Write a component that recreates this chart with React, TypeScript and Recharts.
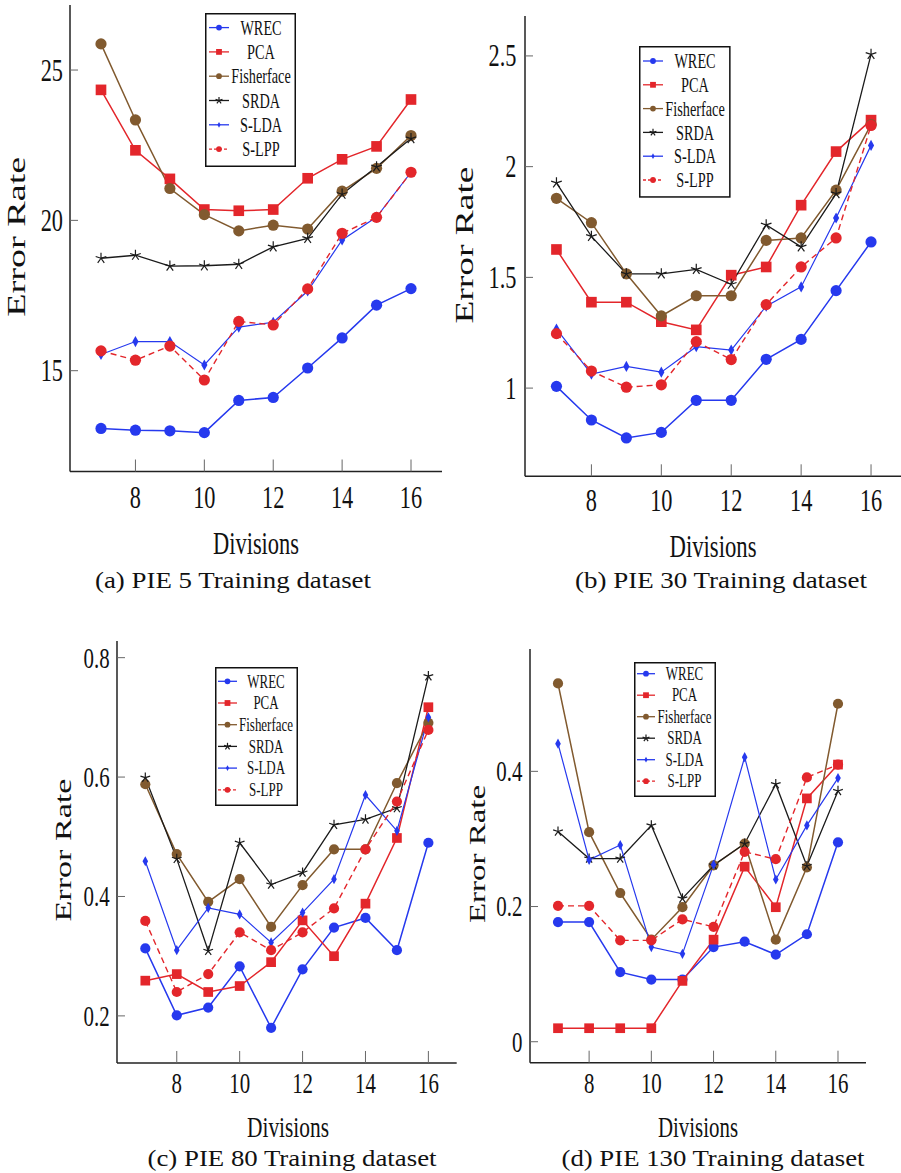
import React from 'react';
import { LineChart, Line, XAxis, YAxis, Legend } from 'recharts';

const divisions = [7, 8, 9, 10, 11, 12, 13, 14, 15, 16];
const xTicks = [8, 10, 12, 14, 16];
const methods = ['WREC', 'PCA', 'Fisherface', 'SRDA', 'S-LDA', 'S-LPP'];

// (a) PIE 5
const pie5Wrec = [13.08, 13.02, 13.0, 12.94, 14.01, 14.11, 15.09, 16.09, 17.18, 17.73];
const pie5Pca = [24.34, 22.33, 21.38, 20.36, 20.32, 20.36, 21.4, 22.03, 22.46, 24.02];
const pie5Fisher = [25.87, 23.34, 21.06, 20.19, 19.65, 19.84, 19.71, 20.97, 21.73, 22.82];
const pie5Srda = [18.74, 18.84, 18.48, 18.49, 18.54, 19.12, 19.4, 20.87, 21.78, 22.72];
const pie5Slda = [15.54, 15.97, 15.97, 15.19, 16.45, 16.61, 17.65, 19.35, 20.11, 21.6];
const pie5Slpp = [15.66, 15.35, 15.82, 14.69, 16.64, 16.52, 17.72, 19.57, 20.1, 21.6];
const pie5Ticks = [15, 20, 25];

// (b) PIE 30
const pie30Wrec = [1.008, 0.856, 0.775, 0.8, 0.945, 0.945, 1.13, 1.22, 1.44, 1.66];
const pie30Pca = [1.626, 1.388, 1.388, 1.3, 1.263, 1.51, 1.547, 1.826, 2.068, 2.21];
const pie30Fisher = [1.857, 1.747, 1.516, 1.326, 1.417, 1.417, 1.667, 1.678, 1.894, 2.19];
const pie30Srda = [1.927, 1.685, 1.516, 1.516, 1.536, 1.469, 1.737, 1.638, 1.878, 2.507];
const pie30Slda = [1.267, 1.063, 1.098, 1.072, 1.187, 1.172, 1.37, 1.457, 1.768, 2.096];
const pie30Slpp = [1.246, 1.077, 1.004, 1.015, 1.21, 1.129, 1.377, 1.547, 1.678, 2.186];
const pie30Ticks = [1, 1.5, 2, 2.5];

// (c) PIE 80
const pie80Wrec = [0.313, 0.201, 0.214, 0.283, 0.18, 0.278, 0.348, 0.364, 0.31, 0.49];
const pie80Pca = [0.259, 0.27, 0.24, 0.25, 0.29, 0.36, 0.3, 0.388, 0.498, 0.717];
const pie80Fisher = [0.588, 0.471, 0.391, 0.429, 0.349, 0.419, 0.479, 0.479, 0.59, 0.691];
const pie80Srda = [0.599, 0.463, 0.309, 0.49, 0.42, 0.44, 0.52, 0.529, 0.548, 0.769];
const pie80Slda = [0.459, 0.31, 0.381, 0.37, 0.323, 0.373, 0.429, 0.57, 0.51, 0.7];
const pie80Slpp = [0.359, 0.24, 0.27, 0.34, 0.31, 0.34, 0.38, 0.479, 0.559, 0.679];
const pie80Ticks = [0.2, 0.4, 0.6, 0.8];

// (d) PIE 130
const pie130Wrec = [0.177, 0.177, 0.103, 0.092, 0.092, 0.14, 0.148, 0.129, 0.159, 0.295];
const pie130Pca = [0.02, 0.02, 0.02, 0.02, 0.09, 0.151, 0.259, 0.199, 0.36, 0.41];
const pie130Fisher = [0.53, 0.31, 0.22, 0.151, 0.199, 0.261, 0.293, 0.151, 0.258, 0.5];
const pie130Srda = [0.311, 0.271, 0.271, 0.32, 0.212, 0.261, 0.293, 0.381, 0.26, 0.371];
const pie130Slda = [0.441, 0.269, 0.291, 0.14, 0.13, 0.262, 0.421, 0.24, 0.32, 0.39];
const pie130Slpp = [0.201, 0.201, 0.15, 0.15, 0.181, 0.17, 0.281, 0.27, 0.391, 0.41];
const pie130Ticks = [0, 0.2, 0.4];

const FONT = "'Liberation Serif', 'Times New Roman', serif";
const BLUE = '#2639ee';
const RED = '#e3262b';
const BROWN = '#815a2f';
const BLACK = '#1b1b1b';

const looks: Record<string, any> = {
  WREC: { color: BLUE, mark: 'circle', width: 1.5 },
  PCA: { color: RED, mark: 'square', width: 1.5 },
  Fisherface: { color: BROWN, mark: 'circle', width: 1.5 },
  SRDA: { color: BLACK, mark: 'star', width: 1.3 },
  'S-LDA': { color: BLUE, mark: 'diamond', width: 1.2 },
  'S-LPP': { color: RED, mark: 'circle', width: 1.4, dash: '6 4' },
};

const panels = [
  {
    caption: '(a) PIE 5 Training dataset',
    series: [pie5Wrec, pie5Pca, pie5Fisher, pie5Srda, pie5Slda, pie5Slpp],
    yTicks: pie5Ticks,
    box: { l: 70, t: 4.5, r: 442, b: 471 },
    fs: 31, ms: 5.6, xLabelOff: 26, yLabelGap: 7,
    legend: { l: 205, t: 12.7, w: 91, h: 154, row0: 14.6, step: 24.3, fs: 21, sx: 0.68, line0: 4, line1: 24, textX: 56 },
    yLabel: { x: 16.7, y: 236.7, len: 160, fs: 25 },
    xLabel: { x: 256, y: 543, len: 86, fs: 32 },
    cap: { x: 233, y: 580, len: 276 },
  },
  {
    caption: '(b) PIE 30 Training dataset',
    series: [pie30Wrec, pie30Pca, pie30Fisher, pie30Srda, pie30Slda, pie30Slpp],
    yTicks: pie30Ticks,
    box: { l: 524.5, t: 15.7, r: 902, b: 476 },
    fs: 31, ms: 5.6, xLabelOff: 24, yLabelGap: 8.5,
    legend: { l: 638.7, t: 46, w: 91.6, h: 151.7, row0: 15, step: 23.8, fs: 21, sx: 0.68, line0: 4, line1: 24, textX: 56 },
    yLabel: { x: 464.3, y: 245, len: 157, fs: 25 },
    xLabel: { x: 713, y: 546, len: 87, fs: 32 },
    cap: { x: 721, y: 580, len: 292 },
  },
  {
    caption: '(c) PIE 80 Training dataset',
    series: [pie80Wrec, pie80Pca, pie80Fisher, pie80Srda, pie80Slda, pie80Slpp],
    yTicks: pie80Ticks,
    box: { l: 117.3, t: 641, r: 457, b: 1063 },
    fs: 29, ms: 5.1, xLabelOff: 20, yLabelGap: 7.3,
    legend: { l: 215, t: 666.7, w: 83, h: 139, row0: 14.3, step: 21.7, fs: 18.5, sx: 0.7, line0: 3, line1: 22, textX: 51 },
    yLabel: { x: 63, y: 850, len: 143, fs: 24 },
    xLabel: { x: 288, y: 1127, len: 82, fs: 29 },
    cap: { x: 292, y: 1158, len: 289 },
  },
  {
    caption: '(d) PIE 130 Training dataset',
    series: [pie130Wrec, pie130Pca, pie130Fisher, pie130Srda, pie130Slda, pie130Slpp],
    yTicks: pie130Ticks,
    box: { l: 530.3, t: 649.3, r: 866.3, b: 1063 },
    fs: 29, ms: 5.1, xLabelOff: 20, yLabelGap: 7.6,
    legend: { l: 634, t: 661.7, w: 82, h: 135, row0: 11.7, step: 21.5, fs: 18.5, sx: 0.7, line0: 3, line1: 21, textX: 50.5 },
    yLabel: { x: 477, y: 854, len: 138, fs: 24 },
    xLabel: { x: 698, y: 1127, len: 80, fs: 29 },
    cap: { x: 713, y: 1158, len: 303 },
  },
];

function Marker({ kind, x, y, color, s }: any) {
  if (kind === 'square') {
    return <rect x={x - s} y={y - s} width={2 * s} height={2 * s} fill={color} />;
  }
  if (kind === 'diamond') {
    const w = s * 0.55;
    return <polygon points={`${x},${y - s} ${x + w},${y} ${x},${y + s} ${x - w},${y}`} fill={color} />;
  }
  if (kind === 'star') {
    return (
      <g stroke={color} strokeWidth={1.2}>
        {[0, 1, 2, 3, 4].map((k) => {
          const a = ((-90 + 72 * k) * Math.PI) / 180;
          return <line key={k} x1={x} y1={y} x2={x + s * Math.cos(a)} y2={y + s * Math.sin(a)} />;
        })}
      </g>
    );
  }
  return <circle cx={x} cy={y} r={s} fill={color} />;
}

function LegendBox({ lg }: any) {
  return (
    <svg width={lg.w} height={lg.h} style={{ display: 'block', overflow: 'visible' }}>
      <rect x={0.75} y={0.75} width={lg.w - 1.5} height={lg.h - 1.5} fill="#fff" stroke="#111" strokeWidth={1.5} />
      {methods.map((m, i) => {
        const y = lg.row0 + i * lg.step;
        const lk = looks[m];
        return (
          <g key={m}>
            <line x1={lg.line0} x2={lg.line1} y1={y} y2={y} stroke={lk.color} strokeWidth={1.3}
              strokeDasharray={lk.dash ? '3 2' : undefined} />
            <Marker kind={lk.mark} x={(lg.line0 + lg.line1) / 2} y={y} color={lk.color} s={lk.mark === 'star' ? 3.6 : 2.9} />
            <g transform={`translate(${lg.textX},${y}) scale(${lg.sx},1)`}>
              <text x={0} y={lg.fs * 0.34} textAnchor="middle" fontFamily={FONT} fontSize={lg.fs} fill="#111">{m}</text>
            </g>
          </g>
        );
      })}
    </svg>
  );
}

function Panel({ p }: any) {
  const yW = 80;
  const xH = 60;
  const mT = 10;
  const mR = 10;
  const { box } = p;
  const chartLeft = box.l - yW;
  const chartTop = box.t - mT;
  const width = yW + (box.r - box.l) + mR;
  const height = mT + (box.b - box.t) + xH;

  const rows = divisions.map((d, i) => {
    const row: Record<string, number> = { x: d };
    methods.forEach((m, k) => { row[m] = p.series[k][i]; });
    return row;
  });
  const all = p.series.flat();
  const lo = Math.min(...all);
  const hi = Math.max(...all);
  const yDomain = [lo - 0.1 * (hi - lo), hi + 0.1 * (hi - lo)];
  const xDomain = [6.1, 16.9];

  const frame = { stroke: '#222', strokeWidth: 1.5 };
  const tickLine = { stroke: '#666', strokeWidth: 1 };

  const xTick = (t: any) => (
    <g transform={`translate(${t.x},${t.y}) scale(0.72,1)`}>
      <text x={0} y={p.fs * 0.34} textAnchor="middle" fontFamily={FONT} fontSize={p.fs} fill="#111">{t.payload.value}</text>
    </g>
  );
  const yTick = (t: any) => (
    <g transform={`translate(${t.x},${t.y}) scale(0.72,1)`}>
      <text x={0} y={p.fs * 0.34} textAnchor="end" fontFamily={FONT} fontSize={p.fs} fill="#111">{t.payload.value}</text>
    </g>
  );

  const lg = p.legend;

  return (
    <div style={{ position: 'absolute', left: chartLeft, top: chartTop }}>
      <LineChart width={width} height={height} data={rows} margin={{ top: mT, right: mR, bottom: 0, left: 0 }}>
        <XAxis xAxisId="bottom" dataKey="x" type="number" domain={xDomain} ticks={xTicks} allowDataOverflow
          height={xH} tickSize={-12} tickMargin={12 + p.xLabelOff} tick={xTick} axisLine={frame} tickLine={tickLine} />
        <XAxis xAxisId="top" orientation="top" dataKey="x" type="number" domain={xDomain} ticks={xTicks} allowDataOverflow
          height={0} tickSize={-12} tick={false} axisLine={frame} tickLine={tickLine} />
        <YAxis yAxisId="left" type="number" domain={yDomain} ticks={p.yTicks} allowDataOverflow
          width={yW} tickSize={-8} tickMargin={8 + p.yLabelGap} tick={yTick} axisLine={frame} tickLine={tickLine} />
        <YAxis yAxisId="right" orientation="right" type="number" domain={yDomain} ticks={p.yTicks} allowDataOverflow
          width={0} tickSize={-8} tick={false} axisLine={frame} tickLine={tickLine} />
        {methods.map((m) => {
          const lk = looks[m];
          const s = lk.mark === 'square' ? p.ms * 0.95 : lk.mark === 'circle' ? p.ms : p.ms * 1.0;
          return (
            <Line key={m} xAxisId="bottom" yAxisId="left" type="linear" dataKey={m} name={m}
              stroke={lk.color} strokeWidth={lk.width} strokeDasharray={lk.dash}
              dot={(d: any) => <Marker key={`${m}-${d.index}`} kind={lk.mark} x={d.cx} y={d.cy} color={lk.color} s={s} />}
              activeDot={false} isAnimationActive={false} />
          );
        })}
        <Legend layout="vertical" align="center" verticalAlign="middle"
          wrapperStyle={{ left: lg.l - chartLeft, top: lg.t - chartTop, width: lg.w, height: lg.h }}
          content={() => <LegendBox lg={lg} />} />
      </LineChart>
    </div>
  );
}

export default function App() {
  return (
    <div style={{ position: 'absolute', left: 0, top: 0, width: 901, height: 1173, overflow: 'hidden', background: '#fff' }}>
      {panels.map((p) => <Panel key={p.caption} p={p} />)}
      <svg width={901} height={1173} style={{ position: 'absolute', left: 0, top: 0, pointerEvents: 'none' }}>
        {panels.map((p) => (
          <g key={p.caption} fontFamily={FONT} fill="#111">
            <text transform={`translate(${p.yLabel.x},${p.yLabel.y}) rotate(-90)`} x={0} y={p.yLabel.fs * 0.33}
              textAnchor="middle" fontSize={p.yLabel.fs} textLength={p.yLabel.len} lengthAdjust="spacingAndGlyphs">Error Rate</text>
            <text x={p.xLabel.x} y={p.xLabel.y + p.xLabel.fs * 0.33} textAnchor="middle" fontSize={p.xLabel.fs}
              textLength={p.xLabel.len} lengthAdjust="spacingAndGlyphs">Divisions</text>
            <text x={p.cap.x} y={p.cap.y + 24 * 0.33} textAnchor="middle" fontSize={24}
              textLength={p.cap.len} lengthAdjust="spacingAndGlyphs">{p.caption}</text>
          </g>
        ))}
      </svg>
    </div>
  );
}
